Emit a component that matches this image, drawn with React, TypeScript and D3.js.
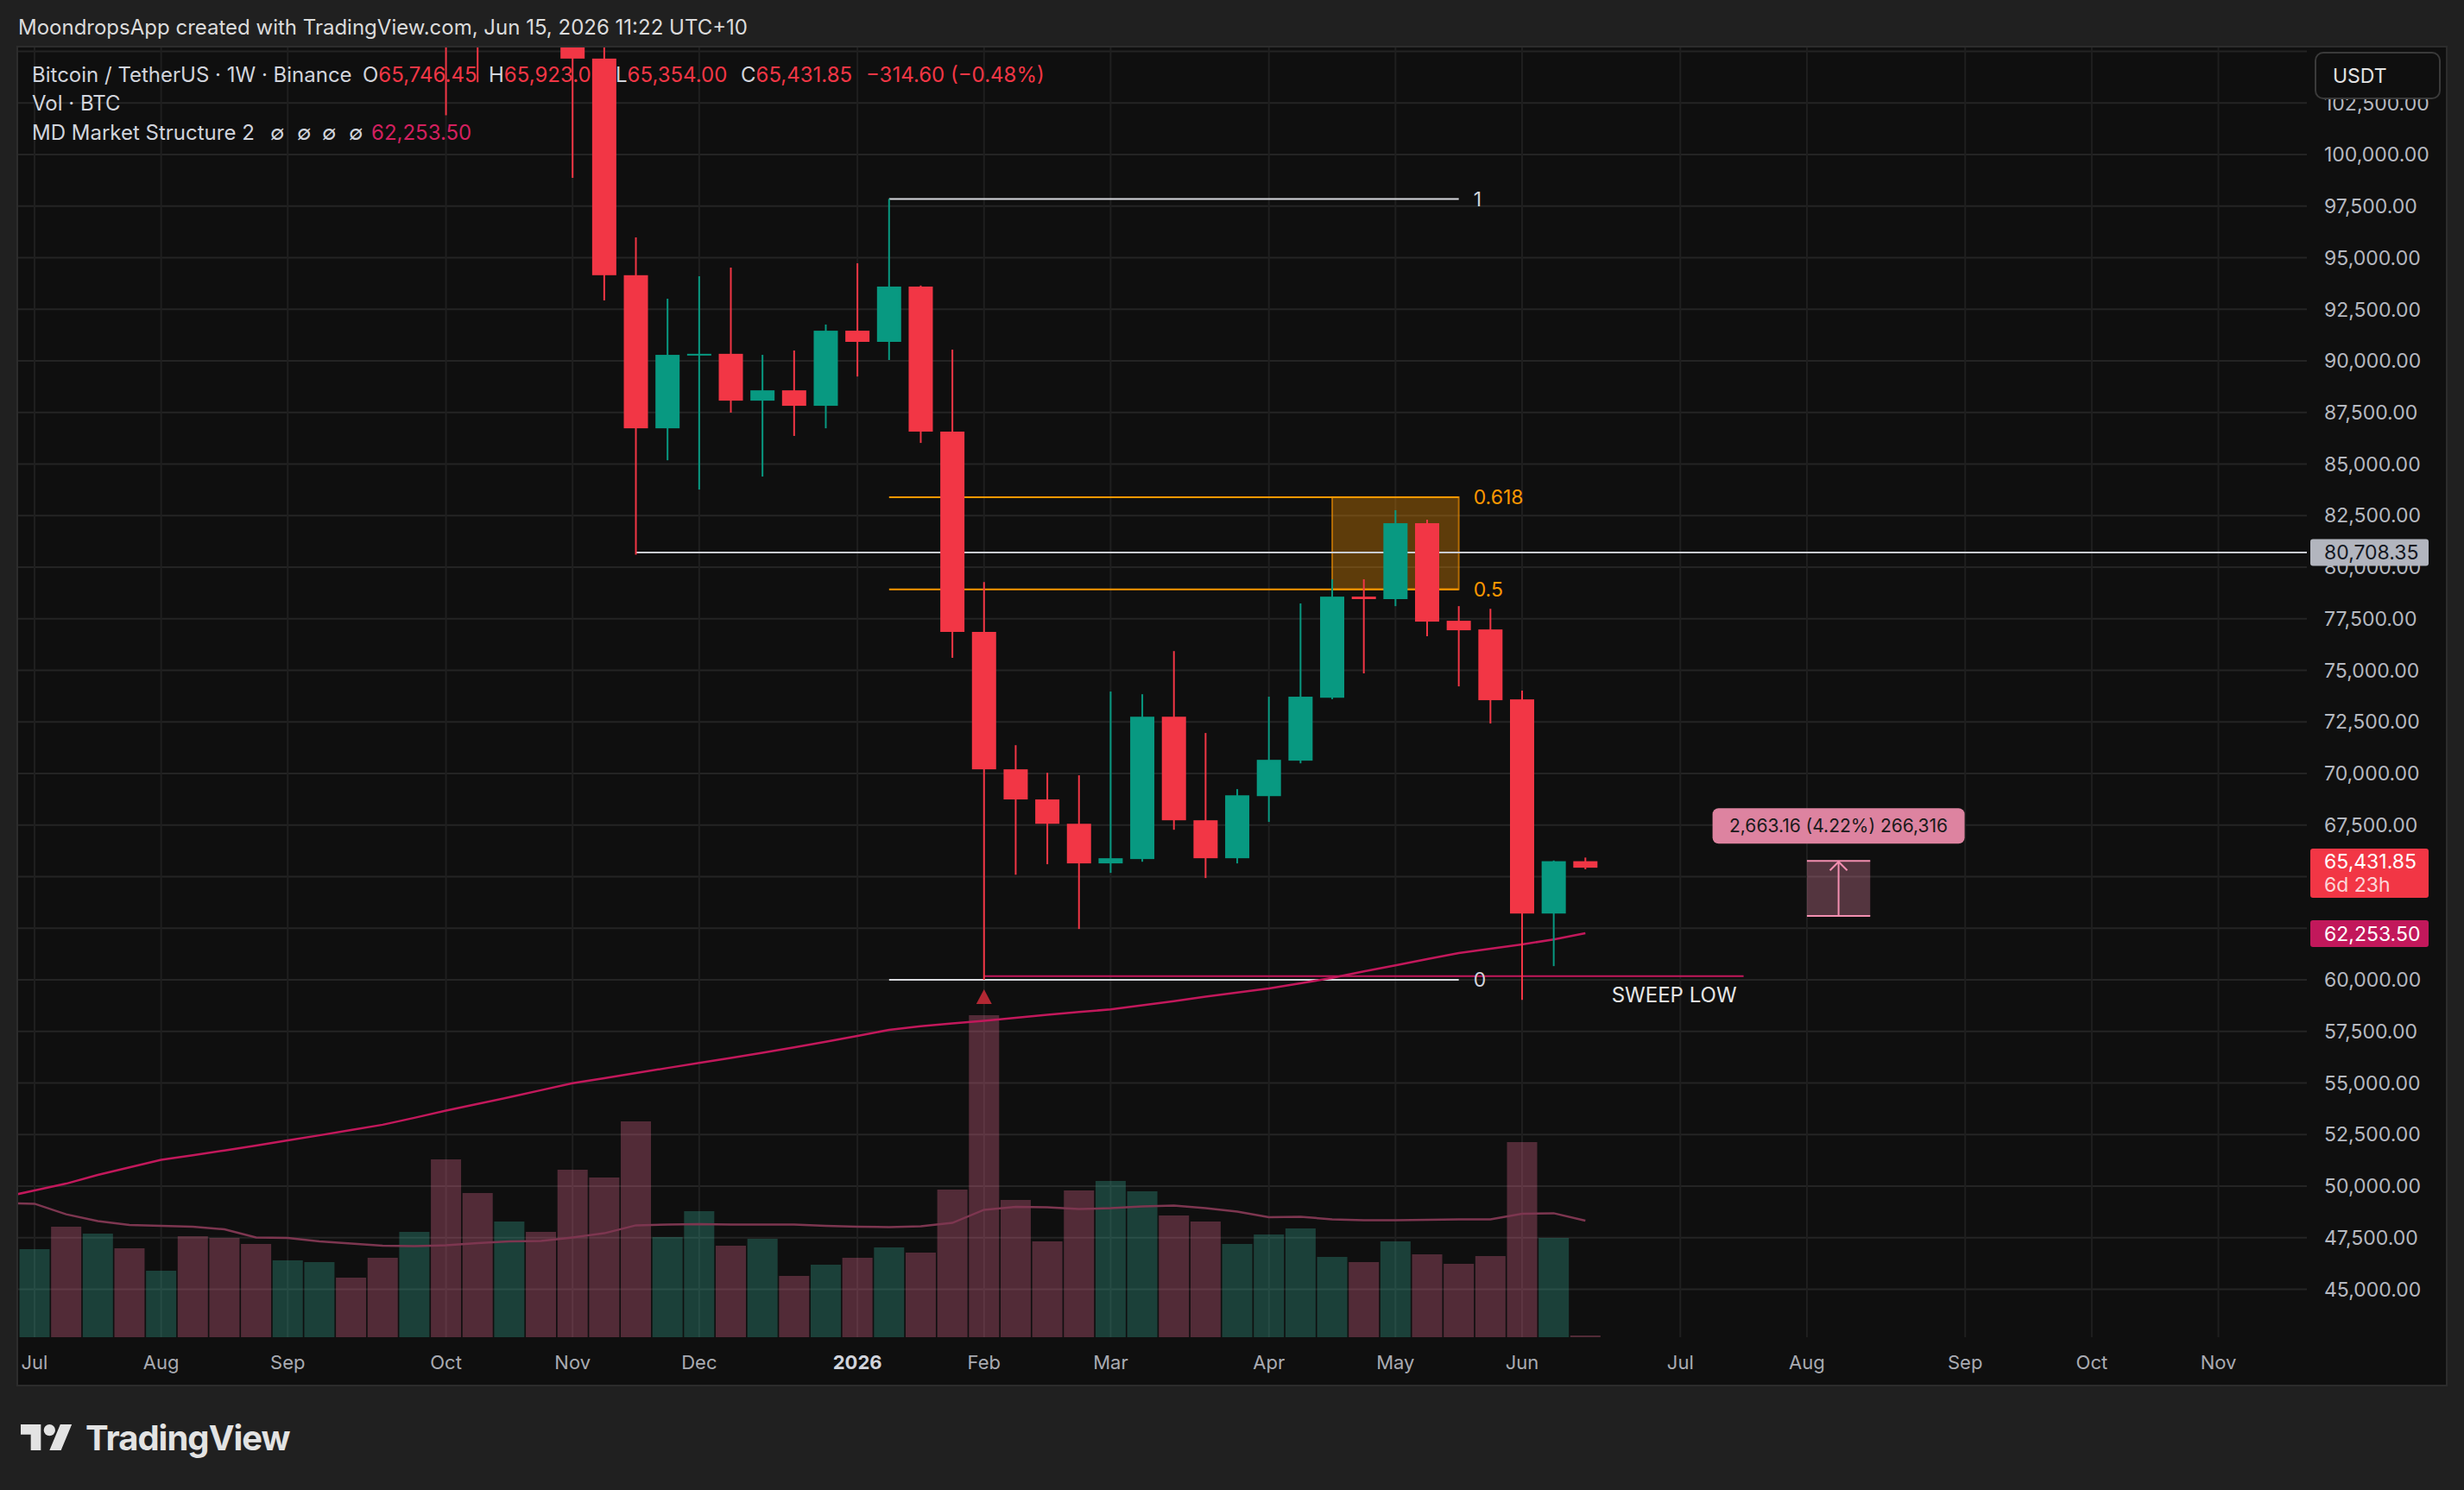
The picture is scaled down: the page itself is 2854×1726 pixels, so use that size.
import React, { useEffect } from "react";
import * as d3 from "d3";

// ---------- DATA ----------
const weekDates = [
  "2025-06-30","2025-07-07","2025-07-14","2025-07-21","2025-07-28","2025-08-04","2025-08-11","2025-08-18","2025-08-25",
  "2025-09-01","2025-09-08","2025-09-15","2025-09-22","2025-09-29","2025-10-06","2025-10-13","2025-10-20","2025-10-27",
  "2025-11-03","2025-11-10","2025-11-17","2025-11-24","2025-12-01","2025-12-08","2025-12-15","2025-12-22","2025-12-29",
  "2026-01-05","2026-01-12","2026-01-19","2026-01-26","2026-02-02","2026-02-09","2026-02-16","2026-02-23","2026-03-02",
  "2026-03-09","2026-03-16","2026-03-23","2026-03-30","2026-04-06","2026-04-13","2026-04-20","2026-04-27","2026-05-04",
  "2026-05-11","2026-05-18","2026-05-25","2026-06-01","2026-06-08","2026-06-15"
];
const opens = [107300,109200,119100,117300,119400,114200,119300,117400,113500,108200,111100,115300,115200,114000,123500,115100,108600,114500,
  110500,104650,94150,86730,90290,90340,88070,88570,87820,91460,90920,93600,86570,76860,70200,68740,67560,65640,65850,72750,67730,65890,
  68900,70620,73670,78570,78450,82130,77400,76980,73590,63210,65746.45];
const highs = [110500,119500,123200,120200,119800,119300,124500,117600,113600,113400,116700,117900,115500,125700,126200,115900,116100,116400,
  110700,107400,95980,93010,94100,94520,90290,90500,91760,94730,97850,93650,90540,79280,71370,70030,69910,73970,73840,75930,71960,69240,
  73720,78240,79410,79410,82760,82300,78110,77980,74010,65780,65923];
const lows = [105700,107500,115700,114700,112000,112600,116800,110600,107300,107300,110600,114400,108600,111800,101900,103500,106600,106300,
  98870,92930,80600,85180,83760,87490,84390,86360,86730,89240,90040,86020,75600,60000,65090,65600,62460,65180,65720,67270,64930,65640,
  67650,70490,73600,74850,78110,76650,74220,72420,59020,60660,65354];
const closes = [109200,119100,117300,119400,114200,119300,117400,113500,108200,111100,115300,115200,114000,123500,115100,108600,114500,110500,
  104650,94150,86730,90290,90340,88070,88570,87820,91460,90920,93600,86570,76860,70200,68740,67560,65640,65890,72750,67730,65890,68940,
  70660,73720,78570,78450,82130,77360,76940,73550,63210,65746.45,65431.85];
// weekly volume, thousand BTC
const volumes = [36,51,64,60,51.5,38.5,58.5,57.5,54,44.5,43.5,34.5,46,61,103,83.5,67,61,97,92.5,125,58,73,53,57,35.5,42,46,52,49,85.5,
  186.5,79.5,55.5,85,90.5,84.5,70.5,67,54,59.5,63,46.5,43.5,55.5,48,42.5,47,113,57.5,1];
const volumeMA = [77.7,77.3,71.2,67.3,65,64.5,64,62.5,57.8,57.5,55.5,54.2,53,52.8,53.2,54.5,55.5,55.8,57.8,60.2,64.8,65.2,65.5,65.2,65.3,
  65.2,64.5,64,63.8,64.2,66.2,73.8,75.5,75.3,74.3,74.7,75.8,76.2,74.8,72.8,69.5,69.7,68.3,67.8,67.7,68,68.2,68.2,71.5,71.8,67.5];
const mdStructure = [49450,49790,50118,50538,50907,51270,51490,51726,51960,52210,52460,52715,52972,53307,53660,53981,54303,54646,54982,
  55230,55478,55723,55968,56208,56465,56722,56992,57273,57573,57744,57879,58007,58155,58306,58435,58564,58764,58964,59184,59379,59575,
  59830,60092,60403,60701,60997,61290,61500,61712,61955,62253.5];

const priceTicks = [45000,47500,50000,52500,55000,57500,60000,62500,65000,67500,70000,72500,75000,77500,80000,82500,85000,87500,
  90000,92500,95000,97500,100000,102500,105000];
const monthTickDates = ["2025-07-07","2025-08-04","2025-09-01","2025-10-06","2025-11-03","2025-12-01","2026-01-05","2026-02-02",
  "2026-03-02","2026-04-06","2026-05-04","2026-06-01","2026-07-06","2026-08-03","2026-09-07","2026-10-05","2026-11-02"];
const monthTickLabels = ["Jul","Aug","Sep","Oct","Nov","Dec","2026","Feb","Mar","Apr","May","Jun","Jul","Aug","Sep","Oct","Nov"];

const fibLevels = [1, 0.618, 0.5, 0];
const fibLabels = ["1", "0.618", "0.5", "0"];
const fibHigh = 97850;
const fibLow = 60000;
const fibStart = "2026-01-12";
const fibEnd = "2026-05-18";
const zoneStart = "2026-04-20";
const hLinePrice = 80708.35;
const hLineStart = "2025-11-17";
const sweepPrice = 60170;
const sweepStart = "2026-02-02";
const sweepEnd = "2026-07-20";
const markerDate = "2026-02-02";
const measureStart = "2026-08-03";
const measureEnd = "2026-08-17";
const measureFrom = 63097;
const measureTo = 65760.16;
const measureText = "2,663.16 (4.22%) 266,316";
const lastPrice = 65431.85;
const mdLast = 62253.5;

// ---------- STYLE ----------
const FONT = "Inter, 'Noto Sans', sans-serif";
const UP = "#089981";
const DOWN = "#f23645";
const GRID = "#242424";

export default function App() {
  useEffect(() => {
    document.body.style.margin = "0";
    document.body.style.background = "#202020";
  }, []);

  const W = 2854, H = 1726;
  const plotL = 21, plotR = 2672, plotT = 55, plotB = 1549;

  const x = d3.scaleUtc()
    .domain([new Date(monthTickDates[0]), new Date(monthTickDates[monthTickDates.length - 1])])
    .range([40, 2569.5]);
  const y = d3.scaleLinear().domain([45000, 100000]).range([1493.4, 179]);
  const v = d3.scaleLinear().domain([0, 200]).range([plotB, plotB - 400]);

  const bars = weekDates.map((d, i) => ({
    date: new Date(d), o: opens[i], h: highs[i], l: lows[i], c: closes[i],
    vol: volumes[i], vma: volumeMA[i], md: mdStructure[i],
  }));
  const bodyW = 28, volW = 35;

  const mdPath = d3.line<any>().x((d) => x(d.date)).y((d) => y(d.md))(bars);
  const vmaPath = d3.line<any>().x((d) => x(d.date)).y((d) => v(d.vma))(bars);

  const fx0 = x(new Date(fibStart)), fx1 = x(new Date(fibEnd));
  const fibPrice = (lv: number) => fibLow + lv * (fibHigh - fibLow);
  const zx0 = x(new Date(zoneStart));
  const mx0 = x(new Date(measureStart)), mx1 = x(new Date(measureEnd));
  const mxc = (mx0 + mx1) / 2;
  const myTop = y(measureTo), myBot = y(measureFrom);
  const markX = x(new Date(markerDate));

  const axisX = 2692;
  // TradingView hides axis ticks that sit under the live price / indicator labels
  const lastBox = [y(lastPrice) - 22, y(lastPrice) + 35];
  const mdBox = [y(mdLast) - 15, y(mdLast) + 16];
  const tickVisible = (p: number) => {
    const ty = y(p);
    if (p > 102500) return false;
    if (ty > lastBox[0] && ty < lastBox[1]) return false;
    if (ty > mdBox[0] - 2 && ty < mdBox[1] + 2) return false;
    return true;
  };

  return (
    <div style={{ position: "absolute", left: 0, top: 0, width: W, height: H }}>
      <svg width={W} height={H} style={{ display: "block", fontFamily: FONT }}>
        <defs>
          <clipPath id="plotClip">
            <rect x={plotL} y={plotT} width={plotR - plotL} height={plotB - plotT} />
          </clipPath>
        </defs>
        <rect x={0} y={0} width={W} height={H} fill="#202020" />
        <text x={21} y={40} fontSize={24} fill="#dbdbdb">
          MoondropsApp created with TradingView.com, Jun 15, 2026 11:22 UTC+10
        </text>

        {/* panel */}
        <rect x={20} y={54} width={2814} height={1551} fill="#0f0f0f" stroke="#2c2c2c" strokeWidth={2} />

        {/* grid */}
        <g clipPath="url(#plotClip)">
          {priceTicks.map((p) => (
            <line key={"hg" + p} x1={plotL} x2={plotR} y1={y(p)} y2={y(p)} stroke={GRID} strokeWidth={2} />
          ))}
          {monthTickDates.map((d) => (
            <line key={"vg" + d} x1={x(new Date(d))} x2={x(new Date(d))} y1={plotT} y2={plotB} stroke="#1f1f1f" strokeWidth={2} />
          ))}
        </g>

        {/* legend */}
        <g fontSize={24} fill="#d1d4dc">
          <text x={37} y={95}>Bitcoin / TetherUS · 1W · Binance</text>
          <text x={420} y={95}>O<tspan fill={DOWN}>65,746.45</tspan></text>
          <text x={566} y={95}>H<tspan fill={DOWN}>65,923.00</tspan></text>
          <text x={713} y={95}>L<tspan fill={DOWN}>65,354.00</tspan></text>
          <text x={858} y={95}>C<tspan fill={DOWN}>65,431.85</tspan></text>
          <text x={1003} y={95} fill={DOWN}>−314.60 (−0.48%)</text>
          <text x={37} y={128}>Vol · BTC</text>
          <text x={37} y={162}>MD Market Structure 2</text>
          {[313, 344, 373, 404].map((px) => (
            <text key={"na" + px} x={px} y={162}>∅</text>
          ))}
          <text x={430} y={162} fill="#d3205f">62,253.50</text>
        </g>

        <g clipPath="url(#plotClip)">
          {/* volume */}
          {bars.map((b, i) => (
            <rect key={"v" + i} x={x(b.date) - volW / 2} y={v(b.vol)} width={volW} height={plotB - v(b.vol)}
              fill={b.c >= b.o ? "rgba(56,178,155,0.3)" : "rgba(240,110,150,0.3)"} />
          ))}
          <path d={vmaPath || ""} fill="none" stroke="#7d3650" strokeWidth={2.5} />

          {/* drawings */}
          <rect x={zx0} y={y(fibPrice(0.618))} width={fx1 - zx0} height={y(fibPrice(0.5)) - y(fibPrice(0.618))}
            fill="rgba(255,152,0,0.33)" stroke="#ff9800" strokeOpacity={0.6} strokeWidth={2} />
          <line x1={x(new Date(hLineStart))} x2={plotR} y1={y(hLinePrice)} y2={y(hLinePrice)} stroke="#c9cbd1" strokeWidth={2} />
          {fibLevels.map((lv) => (
            <line key={"fib" + lv} x1={fx0} x2={fx1} y1={y(fibPrice(lv))} y2={y(fibPrice(lv))}
              stroke={lv === 0 || lv === 1 ? "#d8d9de" : "#ff9800"} strokeWidth={2} />
          ))}
          <line x1={x(new Date(sweepStart))} x2={x(new Date(sweepEnd))} y1={y(sweepPrice)} y2={y(sweepPrice)} stroke="#c2185b" strokeWidth={2} />

          <path d={mdPath || ""} fill="none" stroke="#c2185b" strokeWidth={2.5} />

          {/* candles */}
          {bars.map((b, i) => {
            const cx = x(b.date);
            const col = b.c >= b.o ? UP : DOWN;
            const top = y(Math.max(b.o, b.c));
            const bot = y(Math.min(b.o, b.c));
            return (
              <g key={"c" + i}>
                <line x1={cx} x2={cx} y1={y(b.h)} y2={y(b.l)} stroke={col} strokeWidth={2} />
                <rect x={cx - bodyW / 2} y={top} width={bodyW} height={Math.max(2, bot - top)} fill={col} />
              </g>
            );
          })}

          {/* sweep marker */}
          <path d={`M${markX},1146 L${markX + 9},1163 L${markX - 9},1163 Z`} fill="#b22833" />

          {/* measure */}
          <rect x={mx0} y={myTop} width={mx1 - mx0} height={myBot - myTop} fill="rgba(244,143,177,0.3)" />
          <line x1={mx0} x2={mx1} y1={myTop} y2={myTop} stroke="#f48fb1" strokeWidth={2} />
          <line x1={mx0} x2={mx1} y1={myBot} y2={myBot} stroke="#f48fb1" strokeWidth={2} />
          <line x1={mxc} x2={mxc} y1={myBot} y2={myTop + 1} stroke="#f48fb1" strokeWidth={2} />
          <path d={`M${mxc - 10},${myTop + 11} L${mxc},${myTop + 1} L${mxc + 10},${myTop + 11}`} fill="none" stroke="#f48fb1" strokeWidth={2} />
          <rect x={mxc - 146} y={myTop - 61} width={292} height={41} rx={7} fill="#dd83a0" />
          <text x={mxc} y={myTop - 40.5} dy="0.35em" textAnchor="middle" fontSize={21} fill="#1a1a1a">{measureText}</text>
        </g>

        {/* fib labels */}
        {fibLevels.map((lv, i) => (
          <text key={"fl" + lv} x={fx1 + 17} y={y(fibPrice(lv))} dy="0.36em" fontSize={23}
            fill={lv === 0 || lv === 1 ? "#d1d4dc" : "#ff9800"}>{fibLabels[i]}</text>
        ))}
        <text x={x(new Date(sweepEnd)) - 8} y={y(sweepPrice) + 21} dy="0.36em" textAnchor="end" fontSize={24} fill="#e6e6e6">SWEEP LOW</text>

        {/* price axis */}
        <g fontSize={23} fill="#b6b9c0">
          {priceTicks.filter(tickVisible).map((p) => (
            <text key={"pt" + p} x={axisX} y={y(p)} dy="0.36em">{d3.format(",.2f")(p)}</text>
          ))}
        </g>
        <rect x={2682} y={61} width={144} height={53} rx={9} fill="#0f0f0f" stroke="#3a3a3a" strokeWidth={2} />
        <text x={2702} y={87.5} dy="0.36em" fontSize={23} fill="#e3e3e3">USDT</text>

        <rect x={2676} y={y(hLinePrice) - 15.5} width={137} height={31} rx={3} fill="#b2b5be" />
        <text x={axisX} y={y(hLinePrice)} dy="0.36em" fontSize={23} fill="#131722">{d3.format(",.2f")(hLinePrice)}</text>

        <rect x={2676} y={lastBox[0]} width={137} height={57} rx={3} fill={DOWN} />
        <text x={axisX} y={y(lastPrice) - 7} dy="0.36em" fontSize={23} fill="#ffffff">{d3.format(",.2f")(lastPrice)}</text>
        <text x={axisX} y={y(lastPrice) + 20} dy="0.36em" fontSize={23} fill="#fcd6d9">6d 23h</text>

        <rect x={2676} y={mdBox[0]} width={137} height={31} rx={3} fill="#c2185b" />
        <text x={axisX} y={y(mdLast) + 0.5} dy="0.36em" fontSize={23} fill="#ffffff">{d3.format(",.2f")(mdLast)}</text>

        {/* time axis */}
        {monthTickDates.map((d, i) => (
          <text key={"tl" + d} x={x(new Date(d))} y={1578} dy="0.36em" textAnchor="middle" fontSize={22}
            fill={monthTickLabels[i] === "2026" ? "#d1d4dc" : "#a9abb2"}
            fontWeight={monthTickLabels[i] === "2026" ? 700 : 400}>{monthTickLabels[i]}</text>
        ))}

        {/* TradingView logo */}
        <g transform="translate(24,1643.3) scale(1.667)" fill="#e3e3e3">
          <path d="M14 22H7V11H0V4h14v18zM28 22h-8l7.5-18h8L28 22z" />
          <circle cx={20} cy={8} r={4} />
        </g>
        <text x={99} y={1680} fontSize={40} fontWeight={700} letterSpacing={-1} fill="#e3e3e3">TradingView</text>
      </svg>
    </div>
  );
}
